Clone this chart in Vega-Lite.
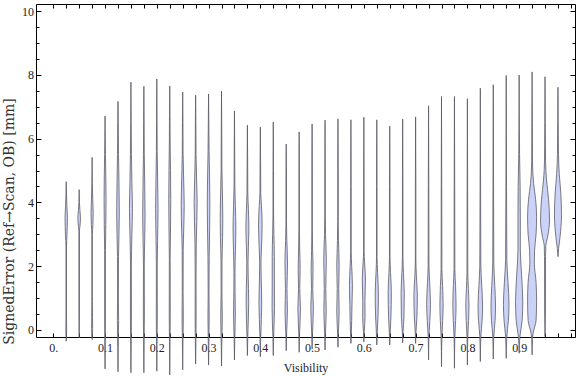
{
 "$schema": "https://vega.github.io/schema/vega-lite/v6.json",
 "width": 539, "height": 333,
 "autosize": {"type": "none"},
 "padding": {"left": 36, "top": 4, "right": 1, "bottom": 40},
 "background": "white",
 "config": {
  "view": {"stroke": "#000", "strokeWidth": 1},
  "axis": {"domain": false, "grid": false, "labelFont": "Liberation Serif", "titleFont": "Liberation Serif", "labelFontSize": 12, "labelColor": "#222", "tickColor": "#000", "tickWidth": 1, "titleFontWeight": "normal", "titleColor": "#222", "titleFontSize": 12}
 },
 "data": {"values": [
  {"v":0.025,"y":-0.35,"lo":0.025,"hi":0.025},{"v":0.025,"y":0.0,"lo":0.0242,"hi":0.0258},{"v":0.025,"y":0.5,"lo":0.0245,"hi":0.0255},{"v":0.025,"y":2.6,"lo":0.0245,"hi":0.0255},{"v":0.025,"y":3.0,"lo":0.0235,"hi":0.0265},{"v":0.025,"y":3.5,"lo":0.0227,"hi":0.0273},{"v":0.025,"y":3.9,"lo":0.0238,"hi":0.0262},{"v":0.025,"y":4.3,"lo":0.0245,"hi":0.0255},{"v":0.025,"y":4.65,"lo":0.025,"hi":0.025},
  {"v":0.05,"y":-0.25,"lo":0.05,"hi":0.05},{"v":0.05,"y":0.5,"lo":0.0495,"hi":0.0505},{"v":0.05,"y":3.1,"lo":0.0495,"hi":0.0505},{"v":0.05,"y":3.25,"lo":0.0485,"hi":0.0515},{"v":0.05,"y":3.5,"lo":0.0475,"hi":0.0525},{"v":0.05,"y":3.75,"lo":0.0485,"hi":0.0515},{"v":0.05,"y":4.0,"lo":0.0495,"hi":0.0505},{"v":0.05,"y":4.4,"lo":0.05,"hi":0.05},
  {"v":0.075,"y":-0.3,"lo":0.075,"hi":0.075},{"v":0.075,"y":0.05,"lo":0.074,"hi":0.076},{"v":0.075,"y":0.4,"lo":0.0742,"hi":0.0758},{"v":0.075,"y":0.9,"lo":0.0745,"hi":0.0755},{"v":0.075,"y":3.0,"lo":0.0745,"hi":0.0755},{"v":0.075,"y":3.3,"lo":0.0735,"hi":0.0765},{"v":0.075,"y":3.65,"lo":0.0729,"hi":0.0771},{"v":0.075,"y":4.1,"lo":0.0738,"hi":0.0762},{"v":0.075,"y":4.6,"lo":0.0745,"hi":0.0755},{"v":0.075,"y":5.41,"lo":0.075,"hi":0.075},
  {"v":0.1,"y":-1.22,"lo":0.1,"hi":0.1},{"v":0.1,"y":-0.5,"lo":0.0995,"hi":0.1005},{"v":0.1,"y":0.5,"lo":0.0992,"hi":0.1008},{"v":0.1,"y":2.5,"lo":0.0992,"hi":0.1008},{"v":0.1,"y":3.3,"lo":0.0985,"hi":0.1015},{"v":0.1,"y":4.1,"lo":0.0981,"hi":0.1019},{"v":0.1,"y":4.8,"lo":0.0985,"hi":0.1015},{"v":0.1,"y":5.5,"lo":0.0992,"hi":0.1008},{"v":0.1,"y":6.71,"lo":0.1,"hi":0.1},
  {"v":0.125,"y":-1.31,"lo":0.125,"hi":0.125},{"v":0.125,"y":-0.5,"lo":0.1245,"hi":0.1255},{"v":0.125,"y":0.3,"lo":0.1238,"hi":0.1262},{"v":0.125,"y":1.0,"lo":0.1242,"hi":0.1258},{"v":0.125,"y":2.3,"lo":0.124,"hi":0.126},{"v":0.125,"y":3.0,"lo":0.1231,"hi":0.1269},{"v":0.125,"y":3.7,"lo":0.1225,"hi":0.1275},{"v":0.125,"y":4.6,"lo":0.1231,"hi":0.1269},{"v":0.125,"y":5.5,"lo":0.124,"hi":0.126},{"v":0.125,"y":6.5,"lo":0.1245,"hi":0.1255},{"v":0.125,"y":7.17,"lo":0.125,"hi":0.125},
  {"v":0.15,"y":-1.34,"lo":0.15,"hi":0.15},{"v":0.15,"y":-0.5,"lo":0.1495,"hi":0.1505},{"v":0.15,"y":0.5,"lo":0.149,"hi":0.151},{"v":0.15,"y":2.0,"lo":0.1492,"hi":0.1508},{"v":0.15,"y":3.0,"lo":0.1481,"hi":0.1519},{"v":0.15,"y":3.8,"lo":0.1471,"hi":0.1529},{"v":0.15,"y":4.6,"lo":0.1481,"hi":0.1519},{"v":0.15,"y":5.5,"lo":0.149,"hi":0.151},{"v":0.15,"y":6.5,"lo":0.1495,"hi":0.1505},{"v":0.15,"y":7.77,"lo":0.15,"hi":0.15},
  {"v":0.175,"y":-1.34,"lo":0.175,"hi":0.175},{"v":0.175,"y":-0.5,"lo":0.1745,"hi":0.1755},{"v":0.175,"y":0.5,"lo":0.174,"hi":0.176},{"v":0.175,"y":2.0,"lo":0.1742,"hi":0.1758},{"v":0.175,"y":2.9,"lo":0.1733,"hi":0.1767},{"v":0.175,"y":3.6,"lo":0.1727,"hi":0.1773},{"v":0.175,"y":4.5,"lo":0.1733,"hi":0.1767},{"v":0.175,"y":5.5,"lo":0.1742,"hi":0.1758},{"v":0.175,"y":6.5,"lo":0.1745,"hi":0.1755},{"v":0.175,"y":7.64,"lo":0.175,"hi":0.175},
  {"v":0.2,"y":-1.29,"lo":0.2,"hi":0.2},{"v":0.2,"y":-0.5,"lo":0.1995,"hi":0.2005},{"v":0.2,"y":0.5,"lo":0.199,"hi":0.201},{"v":0.2,"y":2.0,"lo":0.1992,"hi":0.2008},{"v":0.2,"y":2.8,"lo":0.1985,"hi":0.2015},{"v":0.2,"y":3.8,"lo":0.1977,"hi":0.2023},{"v":0.2,"y":4.8,"lo":0.1985,"hi":0.2015},{"v":0.2,"y":5.6,"lo":0.1992,"hi":0.2008},{"v":0.2,"y":6.5,"lo":0.1995,"hi":0.2005},{"v":0.2,"y":7.87,"lo":0.2,"hi":0.2},
  {"v":0.225,"y":-1.41,"lo":0.225,"hi":0.225},{"v":0.225,"y":-0.5,"lo":0.2245,"hi":0.2255},{"v":0.225,"y":0.5,"lo":0.224,"hi":0.226},{"v":0.225,"y":2.2,"lo":0.2242,"hi":0.2258},{"v":0.225,"y":3.2,"lo":0.2235,"hi":0.2265},{"v":0.225,"y":4.1,"lo":0.2231,"hi":0.2269},{"v":0.225,"y":5.0,"lo":0.2235,"hi":0.2265},{"v":0.225,"y":5.8,"lo":0.2242,"hi":0.2258},{"v":0.225,"y":6.7,"lo":0.2245,"hi":0.2255},{"v":0.225,"y":7.65,"lo":0.225,"hi":0.225},
  {"v":0.25,"y":-1.25,"lo":0.25,"hi":0.25},{"v":0.25,"y":-0.5,"lo":0.2495,"hi":0.2505},{"v":0.25,"y":0.4,"lo":0.2488,"hi":0.2512},{"v":0.25,"y":1.2,"lo":0.2492,"hi":0.2508},{"v":0.25,"y":2.5,"lo":0.249,"hi":0.251},{"v":0.25,"y":3.2,"lo":0.2479,"hi":0.2521},{"v":0.25,"y":3.9,"lo":0.2471,"hi":0.2529},{"v":0.25,"y":4.7,"lo":0.2481,"hi":0.2519},{"v":0.25,"y":5.5,"lo":0.2492,"hi":0.2508},{"v":0.25,"y":6.5,"lo":0.2495,"hi":0.2505},{"v":0.25,"y":7.46,"lo":0.25,"hi":0.25},
  {"v":0.275,"y":-1.07,"lo":0.275,"hi":0.275},{"v":0.275,"y":-0.5,"lo":0.2745,"hi":0.2755},{"v":0.275,"y":0.4,"lo":0.274,"hi":0.276},{"v":0.275,"y":1.5,"lo":0.2742,"hi":0.2758},{"v":0.275,"y":2.7,"lo":0.2738,"hi":0.2762},{"v":0.275,"y":3.4,"lo":0.2727,"hi":0.2773},{"v":0.275,"y":4.0,"lo":0.2721,"hi":0.2779},{"v":0.275,"y":4.7,"lo":0.2731,"hi":0.2769},{"v":0.275,"y":5.5,"lo":0.2742,"hi":0.2758},{"v":0.275,"y":6.5,"lo":0.2745,"hi":0.2755},{"v":0.275,"y":7.36,"lo":0.275,"hi":0.275},
  {"v":0.3,"y":-1.1,"lo":0.3,"hi":0.3},{"v":0.3,"y":-0.5,"lo":0.2995,"hi":0.3005},{"v":0.3,"y":0.4,"lo":0.2988,"hi":0.3012},{"v":0.3,"y":1.2,"lo":0.2992,"hi":0.3008},{"v":0.3,"y":2.3,"lo":0.2988,"hi":0.3012},{"v":0.3,"y":3.2,"lo":0.2979,"hi":0.3021},{"v":0.3,"y":4.0,"lo":0.2975,"hi":0.3025},{"v":0.3,"y":4.8,"lo":0.2981,"hi":0.3019},{"v":0.3,"y":5.6,"lo":0.299,"hi":0.301},{"v":0.3,"y":6.5,"lo":0.2995,"hi":0.3005},{"v":0.3,"y":7.4,"lo":0.3,"hi":0.3},
  {"v":0.325,"y":-1.13,"lo":0.325,"hi":0.325},{"v":0.325,"y":-0.5,"lo":0.3245,"hi":0.3255},{"v":0.325,"y":0.4,"lo":0.3235,"hi":0.3265},{"v":0.325,"y":1.2,"lo":0.3242,"hi":0.3258},{"v":0.325,"y":2.2,"lo":0.324,"hi":0.326},{"v":0.325,"y":2.9,"lo":0.3229,"hi":0.3271},{"v":0.325,"y":3.5,"lo":0.3225,"hi":0.3275},{"v":0.325,"y":4.2,"lo":0.3231,"hi":0.3269},{"v":0.325,"y":5.0,"lo":0.3242,"hi":0.3258},{"v":0.325,"y":6.2,"lo":0.3245,"hi":0.3255},{"v":0.325,"y":7.49,"lo":0.325,"hi":0.325},
  {"v":0.35,"y":-0.94,"lo":0.35,"hi":0.35},{"v":0.35,"y":-0.3,"lo":0.3494,"hi":0.3506},{"v":0.35,"y":0.5,"lo":0.3483,"hi":0.3517},{"v":0.35,"y":1.2,"lo":0.3488,"hi":0.3512},{"v":0.35,"y":1.8,"lo":0.349,"hi":0.351},{"v":0.35,"y":2.5,"lo":0.3481,"hi":0.3519},{"v":0.35,"y":3.2,"lo":0.3473,"hi":0.3527},{"v":0.35,"y":3.9,"lo":0.3483,"hi":0.3517},{"v":0.35,"y":4.5,"lo":0.3492,"hi":0.3508},{"v":0.35,"y":5.5,"lo":0.3495,"hi":0.3505},{"v":0.35,"y":6.87,"lo":0.35,"hi":0.35},
  {"v":0.375,"y":-0.8,"lo":0.375,"hi":0.375},{"v":0.375,"y":-0.2,"lo":0.3742,"hi":0.3758},{"v":0.375,"y":0.9,"lo":0.3725,"hi":0.3775},{"v":0.375,"y":1.7,"lo":0.3735,"hi":0.3765},{"v":0.375,"y":2.1,"lo":0.3738,"hi":0.3762},{"v":0.375,"y":2.6,"lo":0.3731,"hi":0.3769},{"v":0.375,"y":3.2,"lo":0.3721,"hi":0.3779},{"v":0.375,"y":3.8,"lo":0.3731,"hi":0.3769},{"v":0.375,"y":4.3,"lo":0.3742,"hi":0.3758},{"v":0.375,"y":5.3,"lo":0.3745,"hi":0.3755},{"v":0.375,"y":6.42,"lo":0.375,"hi":0.375},
  {"v":0.4,"y":-0.84,"lo":0.4,"hi":0.4},{"v":0.4,"y":-0.2,"lo":0.3992,"hi":0.4008},{"v":0.4,"y":0.85,"lo":0.3973,"hi":0.4027},{"v":0.4,"y":1.6,"lo":0.3983,"hi":0.4017},{"v":0.4,"y":2.1,"lo":0.3988,"hi":0.4012},{"v":0.4,"y":2.6,"lo":0.3977,"hi":0.4023},{"v":0.4,"y":3.3,"lo":0.3965,"hi":0.4035},{"v":0.4,"y":3.9,"lo":0.3979,"hi":0.4021},{"v":0.4,"y":4.3,"lo":0.3992,"hi":0.4008},{"v":0.4,"y":5.3,"lo":0.3995,"hi":0.4005},{"v":0.4,"y":6.36,"lo":0.4,"hi":0.4},
  {"v":0.425,"y":-0.8,"lo":0.425,"hi":0.425},{"v":0.425,"y":-0.2,"lo":0.4242,"hi":0.4258},{"v":0.425,"y":0.7,"lo":0.4227,"hi":0.4273},{"v":0.425,"y":1.5,"lo":0.4229,"hi":0.4271},{"v":0.425,"y":2.3,"lo":0.4229,"hi":0.4271},{"v":0.425,"y":3.0,"lo":0.4238,"hi":0.4262},{"v":0.425,"y":3.6,"lo":0.4244,"hi":0.4256},{"v":0.425,"y":5.0,"lo":0.4245,"hi":0.4255},{"v":0.425,"y":6.52,"lo":0.425,"hi":0.425},
  {"v":0.45,"y":-0.65,"lo":0.45,"hi":0.45},{"v":0.45,"y":-0.1,"lo":0.4492,"hi":0.4508},{"v":0.45,"y":0.6,"lo":0.4477,"hi":0.4523},{"v":0.45,"y":1.3,"lo":0.4485,"hi":0.4515},{"v":0.45,"y":2.1,"lo":0.4475,"hi":0.4525},{"v":0.45,"y":2.8,"lo":0.4488,"hi":0.4512},{"v":0.45,"y":3.4,"lo":0.4495,"hi":0.4505},{"v":0.45,"y":4.8,"lo":0.4495,"hi":0.4505},{"v":0.45,"y":5.83,"lo":0.45,"hi":0.45},
  {"v":0.475,"y":-0.7,"lo":0.475,"hi":0.475},{"v":0.475,"y":-0.1,"lo":0.4742,"hi":0.4758},{"v":0.475,"y":0.65,"lo":0.4725,"hi":0.4775},{"v":0.475,"y":1.3,"lo":0.4738,"hi":0.4762},{"v":0.475,"y":1.9,"lo":0.4731,"hi":0.4769},{"v":0.475,"y":2.6,"lo":0.474,"hi":0.476},{"v":0.475,"y":3.2,"lo":0.4745,"hi":0.4755},{"v":0.475,"y":5.0,"lo":0.4745,"hi":0.4755},{"v":0.475,"y":6.21,"lo":0.475,"hi":0.475},
  {"v":0.5,"y":-0.6,"lo":0.5,"hi":0.5},{"v":0.5,"y":-0.1,"lo":0.4992,"hi":0.5008},{"v":0.5,"y":0.7,"lo":0.4975,"hi":0.5025},{"v":0.5,"y":1.3,"lo":0.4988,"hi":0.5012},{"v":0.5,"y":1.9,"lo":0.4981,"hi":0.5019},{"v":0.5,"y":2.5,"lo":0.499,"hi":0.501},{"v":0.5,"y":3.1,"lo":0.4995,"hi":0.5005},{"v":0.5,"y":5.0,"lo":0.4995,"hi":0.5005},{"v":0.5,"y":6.46,"lo":0.5,"hi":0.5},
  {"v":0.525,"y":-0.63,"lo":0.525,"hi":0.525},{"v":0.525,"y":-0.1,"lo":0.5242,"hi":0.5258},{"v":0.525,"y":0.6,"lo":0.5227,"hi":0.5273},{"v":0.525,"y":1.3,"lo":0.5235,"hi":0.5265},{"v":0.525,"y":2.2,"lo":0.5225,"hi":0.5275},{"v":0.525,"y":3.0,"lo":0.524,"hi":0.526},{"v":0.525,"y":3.6,"lo":0.5245,"hi":0.5255},{"v":0.525,"y":5.0,"lo":0.5245,"hi":0.5255},{"v":0.525,"y":6.58,"lo":0.525,"hi":0.525},
  {"v":0.55,"y":-0.54,"lo":0.55,"hi":0.55},{"v":0.55,"y":-0.1,"lo":0.5492,"hi":0.5508},{"v":0.55,"y":0.6,"lo":0.5477,"hi":0.5523},{"v":0.55,"y":1.3,"lo":0.5485,"hi":0.5515},{"v":0.55,"y":2.0,"lo":0.5477,"hi":0.5523},{"v":0.55,"y":2.8,"lo":0.549,"hi":0.551},{"v":0.55,"y":3.4,"lo":0.5495,"hi":0.5505},{"v":0.55,"y":5.0,"lo":0.5495,"hi":0.5505},{"v":0.55,"y":6.62,"lo":0.55,"hi":0.55},
  {"v":0.575,"y":-0.42,"lo":0.575,"hi":0.575},{"v":0.575,"y":-0.1,"lo":0.5742,"hi":0.5758},{"v":0.575,"y":0.3,"lo":0.5735,"hi":0.5765},{"v":0.575,"y":0.8,"lo":0.5729,"hi":0.5771},{"v":0.575,"y":1.4,"lo":0.5721,"hi":0.5779},{"v":0.575,"y":2.0,"lo":0.5735,"hi":0.5765},{"v":0.575,"y":2.5,"lo":0.5745,"hi":0.5755},{"v":0.575,"y":4.5,"lo":0.5745,"hi":0.5755},{"v":0.575,"y":6.59,"lo":0.575,"hi":0.575},
  {"v":0.6,"y":-0.37,"lo":0.6,"hi":0.6},{"v":0.6,"y":-0.05,"lo":0.5992,"hi":0.6008},{"v":0.6,"y":0.4,"lo":0.5977,"hi":0.6023},{"v":0.6,"y":0.9,"lo":0.5979,"hi":0.6021},{"v":0.6,"y":1.6,"lo":0.5969,"hi":0.6031},{"v":0.6,"y":2.1,"lo":0.5985,"hi":0.6015},{"v":0.6,"y":2.5,"lo":0.5995,"hi":0.6005},{"v":0.6,"y":4.5,"lo":0.5995,"hi":0.6005},{"v":0.6,"y":6.67,"lo":0.6,"hi":0.6},
  {"v":0.625,"y":-0.47,"lo":0.625,"hi":0.625},{"v":0.625,"y":-0.1,"lo":0.6242,"hi":0.6258},{"v":0.625,"y":0.4,"lo":0.6227,"hi":0.6273},{"v":0.625,"y":1.15,"lo":0.6219,"hi":0.6281},{"v":0.625,"y":1.8,"lo":0.6235,"hi":0.6265},{"v":0.625,"y":2.3,"lo":0.6245,"hi":0.6255},{"v":0.625,"y":4.5,"lo":0.6245,"hi":0.6255},{"v":0.625,"y":6.59,"lo":0.625,"hi":0.625},
  {"v":0.65,"y":-0.47,"lo":0.65,"hi":0.65},{"v":0.65,"y":-0.1,"lo":0.6492,"hi":0.6508},{"v":0.65,"y":0.4,"lo":0.6477,"hi":0.6523},{"v":0.65,"y":1.2,"lo":0.6469,"hi":0.6531},{"v":0.65,"y":1.8,"lo":0.6485,"hi":0.6515},{"v":0.65,"y":2.3,"lo":0.6495,"hi":0.6505},{"v":0.65,"y":4.5,"lo":0.6495,"hi":0.6505},{"v":0.65,"y":6.39,"lo":0.65,"hi":0.65},
  {"v":0.675,"y":-0.4,"lo":0.675,"hi":0.675},{"v":0.675,"y":-0.05,"lo":0.6742,"hi":0.6758},{"v":0.675,"y":0.4,"lo":0.6725,"hi":0.6775},{"v":0.675,"y":1.15,"lo":0.6719,"hi":0.6781},{"v":0.675,"y":1.8,"lo":0.6735,"hi":0.6765},{"v":0.675,"y":2.3,"lo":0.6745,"hi":0.6755},{"v":0.675,"y":4.5,"lo":0.6745,"hi":0.6755},{"v":0.675,"y":6.61,"lo":0.675,"hi":0.675},
  {"v":0.7,"y":-0.42,"lo":0.7,"hi":0.7},{"v":0.7,"y":-0.05,"lo":0.6992,"hi":0.7008},{"v":0.7,"y":0.4,"lo":0.6975,"hi":0.7025},{"v":0.7,"y":1.1,"lo":0.6967,"hi":0.7033},{"v":0.7,"y":1.7,"lo":0.6985,"hi":0.7015},{"v":0.7,"y":2.2,"lo":0.6995,"hi":0.7005},{"v":0.7,"y":4.5,"lo":0.6995,"hi":0.7005},{"v":0.7,"y":6.68,"lo":0.7,"hi":0.7},
  {"v":0.725,"y":-0.94,"lo":0.725,"hi":0.725},{"v":0.725,"y":-0.2,"lo":0.7242,"hi":0.7258},{"v":0.725,"y":0.3,"lo":0.7225,"hi":0.7275},{"v":0.725,"y":0.8,"lo":0.7213,"hi":0.7287},{"v":0.725,"y":1.5,"lo":0.7229,"hi":0.7271},{"v":0.725,"y":2.0,"lo":0.7242,"hi":0.7258},{"v":0.725,"y":4.5,"lo":0.7245,"hi":0.7255},{"v":0.725,"y":7.03,"lo":0.725,"hi":0.725},
  {"v":0.75,"y":-1.15,"lo":0.75,"hi":0.75},{"v":0.75,"y":-0.2,"lo":0.7492,"hi":0.7508},{"v":0.75,"y":0.3,"lo":0.7477,"hi":0.7523},{"v":0.75,"y":0.75,"lo":0.7469,"hi":0.7531},{"v":0.75,"y":1.4,"lo":0.7479,"hi":0.7521},{"v":0.75,"y":1.9,"lo":0.7492,"hi":0.7508},{"v":0.75,"y":4.5,"lo":0.7495,"hi":0.7505},{"v":0.75,"y":7.32,"lo":0.75,"hi":0.75},
  {"v":0.775,"y":-1.2,"lo":0.775,"hi":0.775},{"v":0.775,"y":-0.2,"lo":0.7742,"hi":0.7758},{"v":0.775,"y":0.3,"lo":0.7727,"hi":0.7773},{"v":0.775,"y":0.75,"lo":0.7719,"hi":0.7781},{"v":0.775,"y":1.4,"lo":0.7729,"hi":0.7771},{"v":0.775,"y":1.9,"lo":0.7742,"hi":0.7758},{"v":0.775,"y":4.5,"lo":0.7745,"hi":0.7755},{"v":0.775,"y":7.32,"lo":0.775,"hi":0.775},
  {"v":0.8,"y":-1.1,"lo":0.8,"hi":0.8},{"v":0.8,"y":-0.2,"lo":0.7992,"hi":0.8008},{"v":0.8,"y":0.3,"lo":0.7977,"hi":0.8023},{"v":0.8,"y":0.75,"lo":0.7969,"hi":0.8031},{"v":0.8,"y":1.3,"lo":0.7981,"hi":0.8019},{"v":0.8,"y":1.8,"lo":0.7992,"hi":0.8008},{"v":0.8,"y":4.5,"lo":0.7995,"hi":0.8005},{"v":0.8,"y":7.25,"lo":0.8,"hi":0.8},
  {"v":0.825,"y":-0.99,"lo":0.825,"hi":0.825},{"v":0.825,"y":-0.2,"lo":0.824,"hi":0.826},{"v":0.825,"y":0.3,"lo":0.8215,"hi":0.8285},{"v":0.825,"y":0.75,"lo":0.8206,"hi":0.8294},{"v":0.825,"y":1.4,"lo":0.8223,"hi":0.8277},{"v":0.825,"y":2.0,"lo":0.824,"hi":0.826},{"v":0.825,"y":4.5,"lo":0.8245,"hi":0.8255},{"v":0.825,"y":7.58,"lo":0.825,"hi":0.825},
  {"v":0.85,"y":-0.91,"lo":0.85,"hi":0.85},{"v":0.85,"y":-0.2,"lo":0.849,"hi":0.851},{"v":0.85,"y":0.3,"lo":0.8465,"hi":0.8535},{"v":0.85,"y":0.75,"lo":0.8456,"hi":0.8544},{"v":0.85,"y":1.4,"lo":0.8471,"hi":0.8529},{"v":0.85,"y":2.1,"lo":0.849,"hi":0.851},{"v":0.85,"y":4.5,"lo":0.8494,"hi":0.8506},{"v":0.85,"y":7.69,"lo":0.85,"hi":0.85},
  {"v":0.875,"y":-0.89,"lo":0.875,"hi":0.875},{"v":0.875,"y":-0.2,"lo":0.8738,"hi":0.8762},{"v":0.875,"y":0.3,"lo":0.8708,"hi":0.8792},{"v":0.875,"y":0.8,"lo":0.8696,"hi":0.8804},{"v":0.875,"y":1.5,"lo":0.8715,"hi":0.8785},{"v":0.875,"y":2.2,"lo":0.8738,"hi":0.8762},{"v":0.875,"y":4.5,"lo":0.8744,"hi":0.8756},{"v":0.875,"y":7.98,"lo":0.875,"hi":0.875},
  {"v":0.9,"y":-0.73,"lo":0.9,"hi":0.9},{"v":0.9,"y":-0.2,"lo":0.8985,"hi":0.9015},{"v":0.9,"y":0.3,"lo":0.8942,"hi":0.9058},{"v":0.9,"y":0.9,"lo":0.893,"hi":0.907},{"v":0.9,"y":1.7,"lo":0.8952,"hi":0.9048},{"v":0.9,"y":2.5,"lo":0.8977,"hi":0.9023},{"v":0.9,"y":3.5,"lo":0.8977,"hi":0.9023},{"v":0.9,"y":4.5,"lo":0.8981,"hi":0.9019},{"v":0.9,"y":5.5,"lo":0.8992,"hi":0.9008},{"v":0.9,"y":7.99,"lo":0.9,"hi":0.9},
  {"v":0.925,"y":-0.78,"lo":0.925,"hi":0.925},{"v":0.925,"y":-0.3,"lo":0.9242,"hi":0.9258},{"v":0.925,"y":-0.1,"lo":0.923,"hi":0.927},{"v":0.925,"y":0.3,"lo":0.9173,"hi":0.9327},{"v":0.925,"y":0.9,"lo":0.9163,"hi":0.9337},{"v":0.925,"y":1.5,"lo":0.9173,"hi":0.9327},{"v":0.925,"y":2.1,"lo":0.9207,"hi":0.9293},{"v":0.925,"y":2.5,"lo":0.9202,"hi":0.9298},{"v":0.925,"y":3.0,"lo":0.9173,"hi":0.9327},{"v":0.925,"y":3.55,"lo":0.9163,"hi":0.9337},{"v":0.925,"y":4.1,"lo":0.9182,"hi":0.9318},{"v":0.925,"y":4.6,"lo":0.9221,"hi":0.9279},{"v":0.925,"y":5.3,"lo":0.9242,"hi":0.9258},{"v":0.925,"y":6.5,"lo":0.9245,"hi":0.9255},{"v":0.925,"y":8.09,"lo":0.925,"hi":0.925},
  {"v":0.95,"y":-0.2,"lo":0.95,"hi":0.95},{"v":0.95,"y":0.5,"lo":0.9492,"hi":0.9508},{"v":0.95,"y":2.3,"lo":0.949,"hi":0.951},{"v":0.95,"y":2.65,"lo":0.9485,"hi":0.9515},{"v":0.95,"y":2.9,"lo":0.9452,"hi":0.9548},{"v":0.95,"y":3.45,"lo":0.9413,"hi":0.9587},{"v":0.95,"y":4.1,"lo":0.9432,"hi":0.9568},{"v":0.95,"y":4.7,"lo":0.9471,"hi":0.9529},{"v":0.95,"y":5.3,"lo":0.949,"hi":0.951},{"v":0.95,"y":6.5,"lo":0.9495,"hi":0.9505},{"v":0.95,"y":7.94,"lo":0.95,"hi":0.95},
  {"v":0.975,"y":2.3,"lo":0.975,"hi":0.975},{"v":0.975,"y":2.55,"lo":0.9738,"hi":0.9762},{"v":0.975,"y":2.9,"lo":0.9711,"hi":0.9789},{"v":0.975,"y":3.6,"lo":0.9682,"hi":0.9818},{"v":0.975,"y":4.3,"lo":0.9696,"hi":0.9804},{"v":0.975,"y":4.9,"lo":0.9725,"hi":0.9775},{"v":0.975,"y":5.5,"lo":0.974,"hi":0.976},{"v":0.975,"y":6.5,"lo":0.9745,"hi":0.9755},{"v":0.975,"y":7.61,"lo":0.975,"hi":0.975}
 ]},
 "resolve": {"axis": {"x": "independent", "y": "independent"}},
 "layer": [
  {
   "mark": {"type": "area", "orient": "horizontal", "interpolate": "monotone", "fill": "#cbd2f7", "stroke": "#55555f", "strokeWidth": 0.9, "strokeOpacity": 0.85},
   "encoding": {
    "y": {"field": "y", "type": "quantitative", "scale": {"domain": [-0.22, 10.22], "nice": false, "zero": false},
     "axis": {"orient": "left", "values": [0,0.5,1,1.5,2,2.5,3,3.5,4,4.5,5,5.5,6,6.5,7,7.5,8,8.5,9,9.5,10],
      "tickSize": {"condition": {"test": "datum.value % 2 == 0", "value": -5}, "value": -3},
      "labelExpr": "datum.value % 2 == 0 ? format(datum.value, 'd') : ''",
      "labelPadding": 7.5, "labelBaseline": "middle",
      "title": "SignedError (Ref→Scan, OB) [mm]", "titleFont": "DejaVu Serif", "titleFontSize": 14, "titleColor": "#333",
      "titleX": -27, "titleY": 217, "titleAngle": -90, "titleAlign": "center", "titleBaseline": "middle"}},
    "x": {"field": "lo", "type": "quantitative", "scale": {"domain": [-0.0334, 1.0079], "nice": false, "zero": false},
     "axis": {"orient": "bottom", "values": [0,0.025,0.05,0.075,0.1,0.125,0.15,0.175,0.2,0.225,0.25,0.275,0.3,0.325,0.35,0.375,0.4,0.425,0.45,0.475,0.5,0.525,0.55,0.575,0.6,0.625,0.65,0.675,0.7,0.725,0.75,0.775,0.8,0.825,0.85,0.875,0.9,0.925,0.95,0.975,1.0],
      "tickSize": -4,
      "labelExpr": "datum.value == 0 ? '0.' : ((abs(datum.value*10 - round(datum.value*10)) < 0.000001 && datum.value < 0.95) ? format(datum.value, '.1f') : '')",
      "labelPadding": 9, "labelFlush": false, "labelOverlap": false, "labelDx": -1,
      "title": "Visibility", "titleY": 34, "titleBaseline": "alphabetic"}},
    "x2": {"field": "hi"},
    "detail": {"field": "v", "type": "nominal"}
   }
  },
  {
   "mark": {"type": "point", "opacity": 0},
   "encoding": {
    "x": {"field": "v", "type": "quantitative", "scale": {"domain": [-0.0334, 1.0079], "nice": false, "zero": false},
     "axis": {"orient": "top", "values": [0,0.025,0.05,0.075,0.1,0.125,0.15,0.175,0.2,0.225,0.25,0.275,0.3,0.325,0.35,0.375,0.4,0.425,0.45,0.475,0.5,0.525,0.55,0.575,0.6,0.625,0.65,0.675,0.7,0.725,0.75,0.775,0.8,0.825,0.85,0.875,0.9,0.925,0.95,0.975,1.0], "tickSize": -4, "labels": false, "title": null}},
    "y": {"field": "y", "type": "quantitative", "scale": {"domain": [-0.22, 10.22], "nice": false, "zero": false},
     "axis": {"orient": "right", "values": [0,0.5,1,1.5,2,2.5,3,3.5,4,4.5,5,5.5,6,6.5,7,7.5,8,8.5,9,9.5,10],
      "tickSize": {"condition": {"test": "datum.value % 2 == 0", "value": -5}, "value": -3}, "labels": false, "title": null}}
   }
  }
 ]
}
